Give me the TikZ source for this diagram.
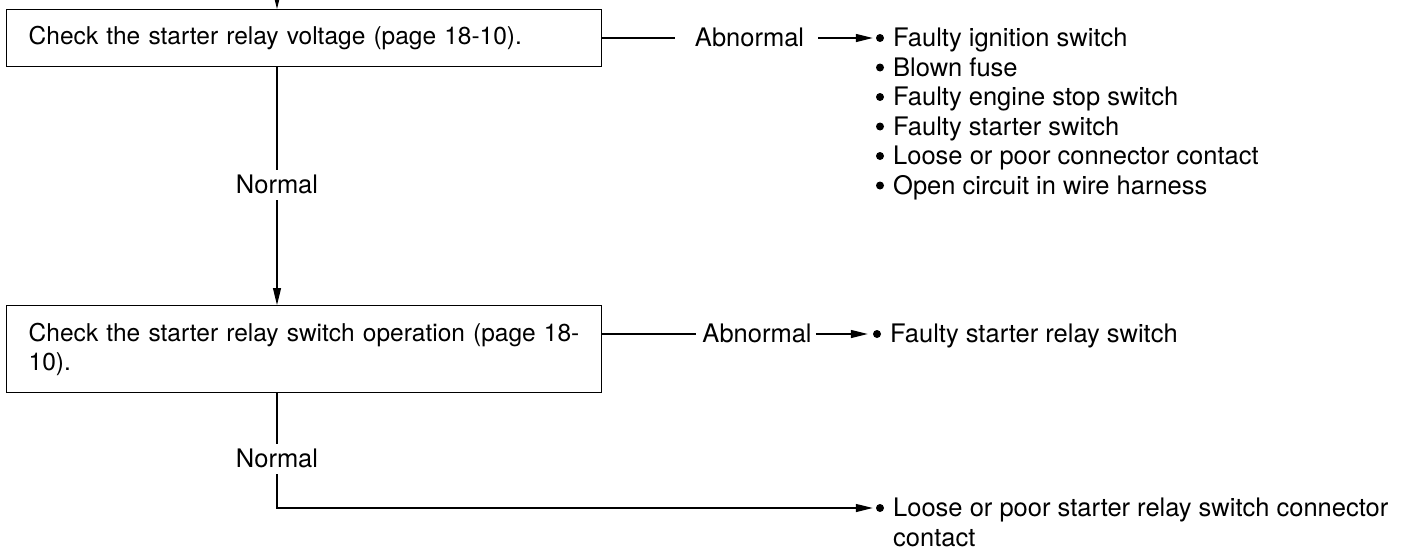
\documentclass[tikz,border=0pt]{standalone}
\usepackage{fontspec}
\setmainfont{TeX Gyre Heros}
\usetikzlibrary{arrows.meta, positioning}
\tikzset{
  box/.style={draw, line width=1.4pt, anchor=north west, text width=551pt, inner xsep=22pt, align=left},
  lbl/.style={inner sep=0pt, text height=20pt, text depth=2.5pt, font=\fontsize{25.5}{29.5}\selectfont},
  item/.style={lbl, anchor=west},
  dot/.style={circle, fill, inner sep=0pt, minimum size=8pt},
  line/.style={line width=1.2pt},
  arr/.style={line, -{Triangle[length=17pt,width=8pt]}},
}

\begin{document}
\begin{tikzpicture}[x=1pt, y=-1pt, font=\fontsize{24.5}{29.5}\selectfont]
\useasboundingbox (0,0) rectangle (1410,555);
% check boxes
\node[box, minimum height=57pt] (volt) at (6,9) {Check the starter relay voltage (page 18-10).};
\node[box, minimum height=87pt] (sw) at (6,305) {Check the starter relay switch operation (page 18-\\10).};
% labels
\node[lbl] (ab1) at (749.5,38) {Abnormal};
\node[lbl] (ab2) at (757,334) {Abnormal};
\node[lbl] (n1) at (277,185) {Normal};
\node[lbl] (n2) at (277,459) {Normal};
% causes
\foreach \t [count=\i] in {Faulty ignition switch, Blown fuse, Faulty engine stop switch, Faulty starter switch, Loose or poor connector contact, Open circuit in wire harness}{
  \node[dot] (b\i) at (880,{38+(\i-1)*29.5}) {};
  \node[item] (v\i) at (893,{38+(\i-1)*29.5}) {\t};
}
\node[dot] (bs) at (877,334) {};
\node[item] (s1) at (890,334) {Faulty starter relay switch};
\node[dot] (bc) at (880,508) {};
\node[item] (c1) at (893,508) {Loose or poor starter relay switch connector};
\node[item] (c2) at (893,537.5) {contact};
\coordinate (in) at (277,-12);

% connectors
\draw[arr] (in) -- (in |- volt.north);
\draw[line, shorten >=4pt] (volt.south -| n1) -- (n1.north);
\draw[arr, shorten <=4pt] (n1.south) -- (n1 |- sw.north);
\draw[line, shorten >=4pt] (sw.south -| n2) -- (n2.north);
\draw[arr, shorten <=4pt, shorten >=3pt] (n2.south) |- (bc.west);
\draw[line, shorten >=20pt] (volt.east |- ab1) -- (ab1.west);
\draw[arr, shorten <=14pt, shorten >=3pt] (ab1.east) -- (b1.west);
\draw[line, shorten >=6pt] (sw.east |- ab2) -- (ab2.west);
\draw[arr, shorten <=4pt, shorten >=5pt] (ab2.east) -- (bs.west);
\end{tikzpicture}
\end{document}
